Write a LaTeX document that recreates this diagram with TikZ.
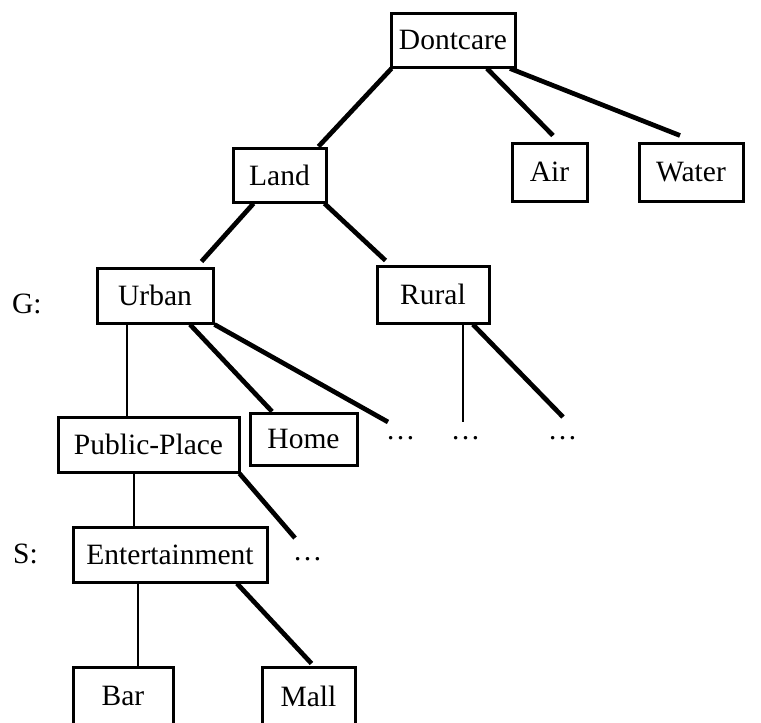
\documentclass[tikz,border=0pt]{standalone}
\usepackage{fontspec}
\setmainfont{Liberation Serif}
\begin{document}
\begin{tikzpicture}[x=1pt,y=-1pt,
  box/.style={draw, line width=3pt, inner sep=0pt, font=\fontsize{29.5}{34}\selectfont},
  lbl/.style={inner sep=0pt, anchor=base west, font=\fontsize{29.5}{34}\selectfont},
  more/.style={inner sep=0pt, anchor=base, font=\fontsize{29.5}{34}\selectfont},
  heavy edge/.style={line width=4.7pt},
  light edge/.style={line width=2.8pt}]
\useasboundingbox (0,0) rectangle (761,723);

% concept boxes
\node[box, minimum width=124pt, minimum height=54pt] (dontcare) at (453,40) {Dontcare};
\node[box, minimum width=93pt,  minimum height=54pt] (land)     at (279.5,175) {Land};
\node[box, minimum width=75pt,  minimum height=58pt] (air)      at (549.5,172) {Air};
\node[box, minimum width=104pt, minimum height=58pt] (water)    at (691,172) {Water};
\node[box, minimum width=116pt, minimum height=55pt] (urban)    at (155,295.5) {Urban};
\node[box, minimum width=112pt, minimum height=57pt] (rural)    at (433,294.5) {Rural};
\node[box, minimum width=181pt, minimum height=55pt] (public)   at (148.5,444.5) {Public-Place};
\node[box, minimum width=107pt, minimum height=52pt] (home)     at (303.5,439) {Home};
\node[box, minimum width=194pt, minimum height=55pt] (ent)      at (170,554.5) {Entertainment};
\node[box, minimum width=100pt, minimum height=58pt] (bar)      at (123,696) {Bar};
\node[box, minimum width=93pt,  minimum height=58pt] (mall)     at (308.5,696) {Mall};

% level labels
\node[lbl] (g) at (12,313) {G:};
\node[lbl] (s) at (13,563) {S:};

% elided children
\node[more] (d1) at (400.5,439.5) {…};
\node[more] (d2) at (465.5,439.5) {…};
\node[more] (d3) at (562.5,439.5) {…};
\node[more] (d4) at (307.5,560) {…};
\coordinate (e1) at (388,422);
\coordinate (e2) at (463,422);
\coordinate (e3) at (563,417);
\coordinate (e4) at (295,538);

% hierarchy links
\draw[heavy edge] ([xshift=2pt]dontcare.south west) -- ([xshift=-9pt]land.north east);
\draw[heavy edge] ([xshift=34pt]dontcare.south) -- ([xshift=3.5pt,yshift=6pt]air.north);
\draw[heavy edge] ([xshift=57pt]dontcare.south) -- ([xshift=-11pt,yshift=6pt]water.north);
\draw[heavy edge] ([xshift=22pt]land.south west) -- ([xshift=-13pt,yshift=5pt]urban.north east);
\draw[heavy edge] ([xshift=-3pt]land.south east) -- ([xshift=10pt,yshift=4pt]rural.north west);
\draw[light edge] ([xshift=-28pt]urban.south) coordinate (u1) -- (u1 |- public.north);
\draw[heavy edge] ([xshift=35pt]urban.south) -- ([xshift=-31.5pt]home.north);
\draw[heavy edge] (urban.south east) -- (e1);
\draw[light edge] ([xshift=30pt]rural.south) -- (e2);
\draw[heavy edge] ([xshift=40pt]rural.south) -- (e3);
\draw[light edge] ([xshift=-14.5pt]public.south) coordinate (p1) -- (p1 |- ent.north);
\draw[heavy edge] ([xshift=-1pt]public.south east) -- (e4);
\draw[light edge] ([xshift=-32pt]ent.south) coordinate (n1) -- (n1 |- bar.north);
\draw[heavy edge] ([xshift=67pt]ent.south) -- ([xshift=3pt,yshift=2pt]mall.north);
\end{tikzpicture}
\end{document}
